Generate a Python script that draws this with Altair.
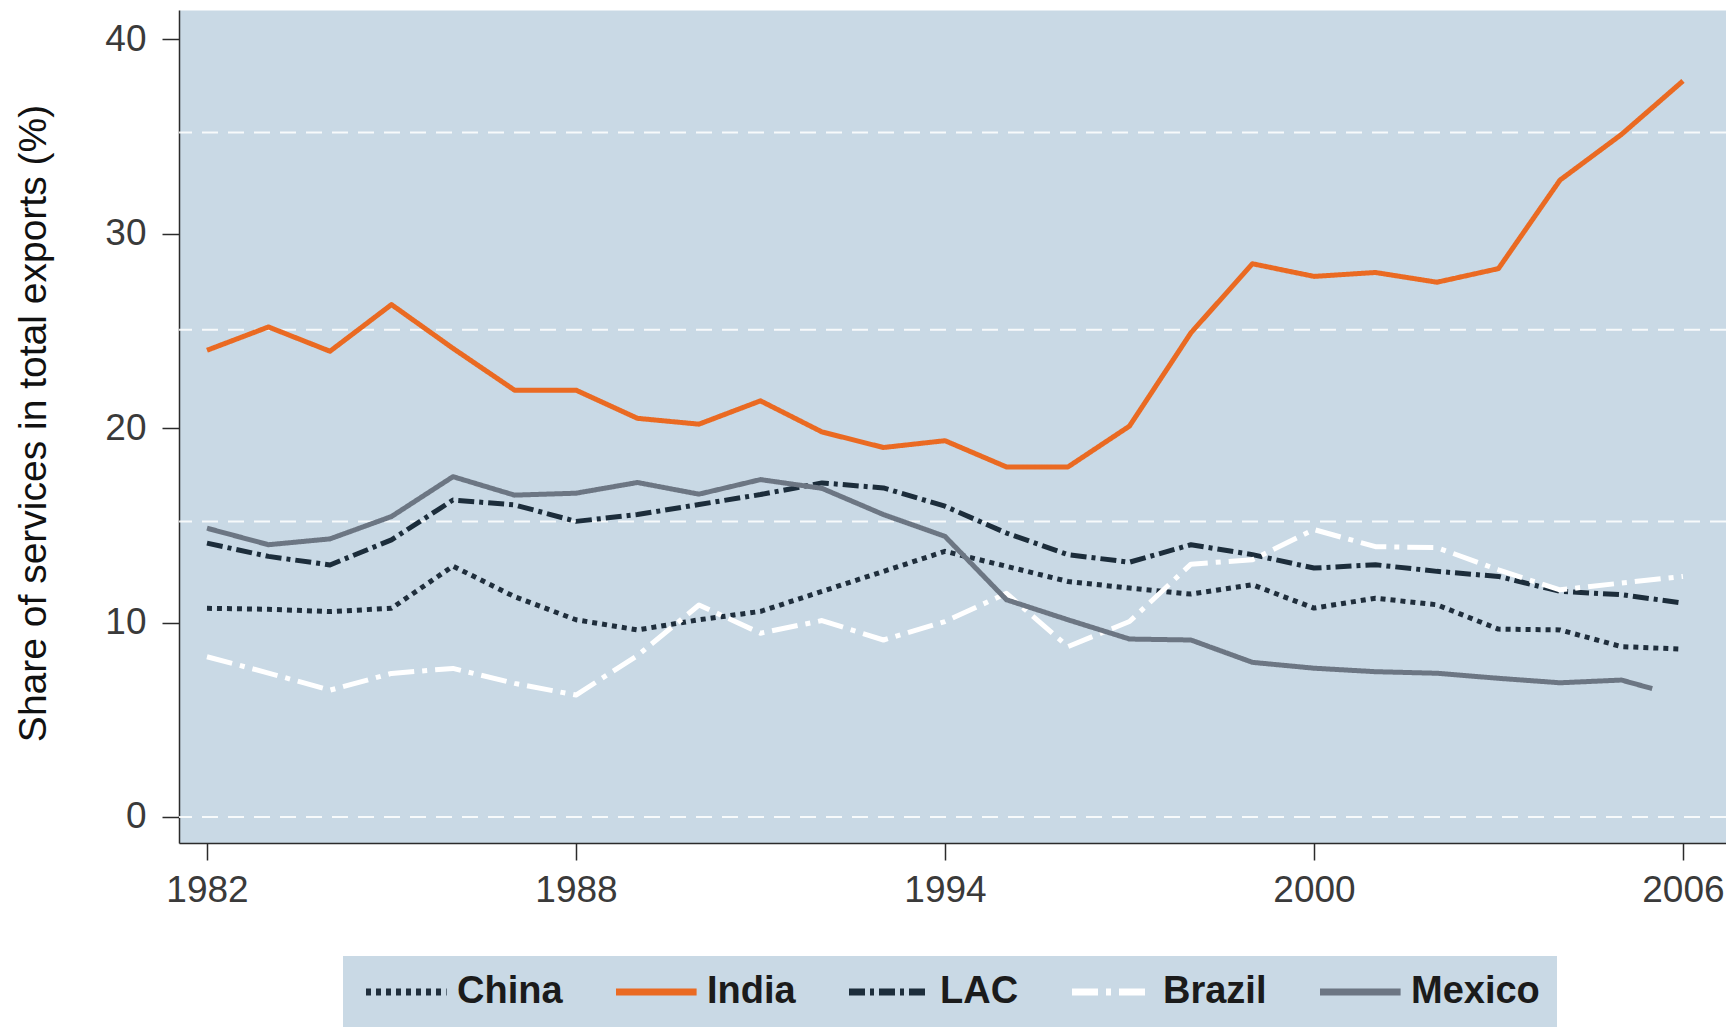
import altair as alt
import pandas as pd

# ---------------- data ----------------
years = list(range(1982, 2007))

china = [10.73, 10.68, 10.56, 10.73, 12.9, 11.33, 10.14, 9.62, 10.14, 10.57,
         11.6, 12.63, 13.66, 12.89, 12.11, 11.77, 11.46, 11.94, 10.74, 11.25,
         10.91, 9.66, 9.62, 8.76, 8.63]

india = [24.0, 25.2, 23.95, 26.35, 24.1, 21.95, 21.95, 20.5, 20.2, 21.4,
         19.8, 19.0, 19.35, 18.0, 18.0, 20.1, 24.9, 28.45, 27.8, 28.0,
         27.5, 28.2, 32.75, 35.1, 37.85]

lac = [14.08, 13.4, 12.96, 14.25, 16.3, 16.05, 15.2, 15.55, 16.07, 16.58,
       17.18, 16.92, 15.98, 14.6, 13.49, 13.1, 14.0, 13.49, 12.8, 12.97,
       12.63, 12.37, 11.6, 11.43, 11.0]

brazil = [8.24, 7.4, 6.52, 7.38, 7.64, 6.87, 6.27, 8.3, 10.9, 9.45,
          10.1, 9.1, 10.05, 11.5, 8.76, 10.05, 13.0, 13.23, 14.78, 13.9,
          13.85, 12.71, 11.68, 12.03, 12.37]

mexico_years = list(range(1982, 2006)) + [2005.5]
mexico = [14.85, 14.0, 14.3, 15.45, 17.5, 16.55, 16.65, 17.2, 16.6, 17.35,
          16.9, 15.55, 14.43, 11.17, 10.14, 9.15, 9.1, 7.95, 7.65, 7.47,
          7.39, 7.13, 6.9, 7.04, 6.6]

series_names = ["China", "India", "LAC", "Brazil", "Mexico"]
series_colors = ["#1f2e3c", "#ea6a22", "#1c2d3b", "#ffffff", "#6c7683"]
series_dashes = [[5, 5], [1, 0], [16, 5, 4, 5], [26, 8, 5, 8], [1, 0]]

grid_values = [0, 15.2, 25.05, 35.2]
x_ticks = [1982, 1988, 1994, 2000, 2006]
y_ticks = [0, 10, 20, 30, 40]

# ---------------- tables ----------------
rows = []
for name, xs, vals in [("China", years, china), ("India", years, india),
                       ("LAC", years, lac), ("Brazil", years, brazil),
                       ("Mexico", mexico_years, mexico)]:
    for x, v in zip(xs, vals):
        rows.append({"series": name, "year": x, "share": v})
df = pd.DataFrame(rows)
grid_df = pd.DataFrame({"share": grid_values})

BG = "#c9d9e5"
SANS = "Liberation Sans, Arial, Helvetica, sans-serif"

x_scale = alt.Scale(domain=[1981.545, 2006.70], nice=False, zero=False)
y_scale = alt.Scale(domain=[-1.34, 41.5], nice=False, zero=False)

x_axis = alt.Axis(values=x_ticks, format="d", title=None, grid=False,
                  domainColor="#2b2b2b", domainWidth=1.5,
                  tickColor="#2b2b2b", tickWidth=1.5, tickSize=17,
                  labelFont=SANS, labelFontSize=37, labelColor="#3a3a3a",
                  labelPadding=12, labelFlush=False, labelOverlap=False)

y_axis = alt.Axis(values=y_ticks, format="d", title="Share of services in total exports (%)",
                  grid=False, domainColor="#2b2b2b", domainWidth=1.5,
                  tickColor="#2b2b2b", tickWidth=1.5, tickSize=17,
                  labelFont=SANS, labelFontSize=37, labelColor="#3a3a3a",
                  labelPadding=16, labelFlush=False, labelOverlap=False,
                  titleFont=SANS, titleFontSize=39, titleFontWeight="normal",
                  titleColor="#111111", titleAngle=270, titleX=-146, titleY=413,
                  titleAlign="center", titleBaseline="middle")

legend = alt.Legend(title=None, orient="none", legendX=164, legendY=946,
                    direction="horizontal",
                    symbolType="M-1,0H5.2", symbolSize=676, symbolStrokeWidth=7,
                    symbolOffset=0,
                    labelFont=SANS, labelFontSize=38, labelFontWeight="bold",
                    labelColor="#1b1b1b", labelOffset=59, labelLimit=0,
                    columnPadding=39, padding=17, fillColor=BG)

grid = alt.Chart(grid_df).mark_rule(
    color="white", strokeDash=[16, 10], strokeWidth=2, opacity=0.85
).encode(y=alt.Y("share:Q", scale=y_scale, axis=y_axis))

lines = alt.Chart(df).mark_line(strokeWidth=5, strokeJoin="round").encode(
    x=alt.X("year:Q", scale=x_scale, axis=x_axis),
    y=alt.Y("share:Q", scale=y_scale, axis=y_axis),
    color=alt.Color("series:N", scale=alt.Scale(domain=series_names, range=series_colors),
                    legend=legend),
    strokeDash=alt.StrokeDash("series:N",
                              scale=alt.Scale(domain=series_names, range=series_dashes),
                              legend=legend),
    order=alt.Order("year:Q"),
)

chart = alt.layer(grid, lines).properties(
    width=1547, height=833,
    autosize=alt.AutoSizeParams(type="none"),
    padding={"left": 171, "top": 2, "right": 0, "bottom": 184},
).configure_view(fill=BG, stroke="transparent")

chart.save("out.html", embed_options={"renderer": "svg", "actions": False})
